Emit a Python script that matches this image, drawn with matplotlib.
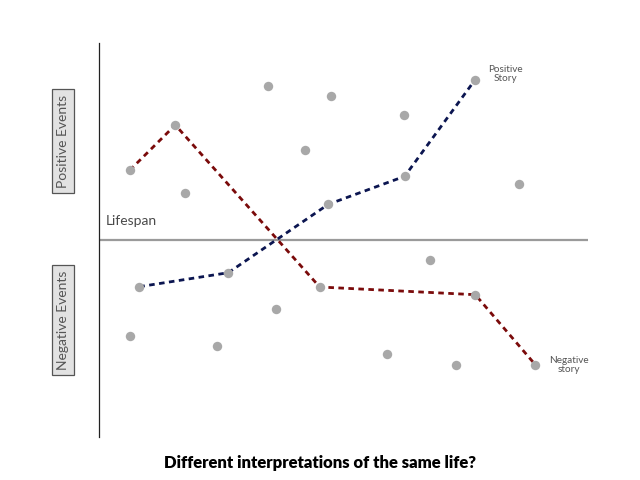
import matplotlib
matplotlib.use("Agg")
import matplotlib.pyplot as plt

# Data (arbitrary units: x = time along lifespan, y = event value, screen-like, larger = lower)
event_x = [129.7, 175.3, 185.3, 268, 331.3, 305, 328.3, 404.3, 404.7, 474.7, 518.7,
           139.3, 228.3, 275.7, 319.7, 430, 475.3, 535.3, 129.7, 217, 387, 456]
event_y = [170.3, 125, 192.7, 85.7, 96, 150.3, 204.3, 115, 176.3, 80.3, 184.3,
           286.7, 272.7, 309.3, 287, 260.3, 294.7, 364.7, 336, 345.7, 354, 365]

negative_x = [129.7, 175.3, 319.7, 475.3, 535.3]
negative_y = [170.3, 125, 287, 294.7, 364.7]

positive_x = [139.3, 228.3, 328.3, 404.7, 474.7]
positive_y = [286.7, 272.7, 204.3, 176.3, 80.3]

lifespan_y = 240

plt.rcParams['font.family'] = ['Lato', 'DejaVu Sans']

fig = plt.figure(figsize=(6.4, 4.8), dpi=100)
W, H = 640, 480
x0, x1, y0, y1 = 99, 588, 43, 437
ax = fig.add_axes([x0 / W, 1 - y1 / H, (x1 - x0) / W, (y1 - y0) / H])
ax.set_xlim(x0, x1)
ax.set_ylim(y1, y0)
for s in ['top', 'right', 'bottom']:
    ax.spines[s].set_visible(False)
ax.spines['left'].set_color('#222222')
ax.spines['left'].set_linewidth(0.9)
ax.set_xticks([])
ax.set_yticks([])
ax.patch.set_alpha(0)

ax.axhline(lifespan_y, color='#9a9a9a', lw=1.6, zorder=1)

ax.plot(negative_x, negative_y, color='#7a0a0a', lw=2.0, dashes=(2.0, 1.6), zorder=2)
ax.plot(positive_x, positive_y, color='#0b1550', lw=2.0, dashes=(2.0, 1.6), zorder=2)
ax.scatter(event_x, event_y, s=46, color='#a8a8a8', zorder=3, linewidths=0)

ax.text(105.5, 225, 'Lifespan', fontsize=10, color='#4a4a4a', ha='left', va='baseline')
ax.text(505, 74, 'Positive\nStory', fontsize=7.2, color='#555555', ha='center', va='center',
        linespacing=1.1)
ax.text(569, 365, 'Negative\nstory', fontsize=7.2, color='#555555', ha='center', va='center',
        linespacing=1.1)

box = dict(boxstyle='square,pad=0.38', facecolor='#e2e2e2', edgecolor='#555555', lw=0.9)
fig.text(63 / W, 1 - 141 / H, 'Positive Events', rotation=90, fontsize=10, color='#555555',
         ha='center', va='center', bbox=box)
fig.text(63 / W, 1 - 320 / H, 'Negative Events', rotation=90, fontsize=10, color='#555555',
         ha='center', va='center', bbox=box)

fig.text(320 / W, 1 - 463 / H, 'Different interpretations of the same life?', fontsize=12,
         fontweight='heavy', color='black', ha='center', va='center')

fig.savefig('out.png', dpi=100)
